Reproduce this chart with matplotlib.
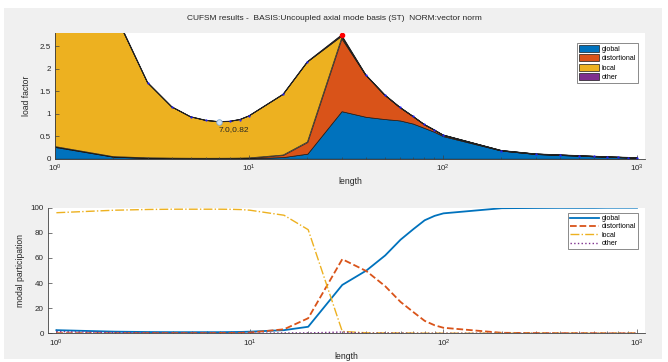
import matplotlib
matplotlib.use('Agg')
import matplotlib.pyplot as plt
from matplotlib.patches import Rectangle, Patch
from matplotlib.lines import Line2D
import numpy as np

plt.rcParams['font.family'] = ['Liberation Sans', 'DejaVu Sans']
plt.rcParams['mathtext.default'] = 'regular'

# half-wavelengths used in the analysis
lengths = [1, 2, 3, 4, 5, 6, 7, 8, 9, 10, 15, 20, 30, 40, 50, 60, 70, 80, 90, 100,
           200, 300, 400, 500, 600, 700, 800, 900, 1000]

# buckling load factor for each length
load_factor = [10.4, 3.3, 1.69, 1.15, 0.93, 0.85, 0.82, 0.83, 0.87, 0.95, 1.43, 2.15, 2.74,
               1.86, 1.42, 1.14, 0.94, 0.76, 0.64, 0.525, 0.18, 0.104, 0.082, 0.066,
               0.052, 0.041, 0.033, 0.026, 0.02]

# modal participation (%)
global_part = [2.5, 1.3, 1.0, 0.9, 0.9, 0.9, 0.9, 1.0, 1.1, 1.3, 2.5, 5.2, 38.5, 50, 62, 74.5,
               83, 90, 93.5, 95.5, 99.6, 99.8, 99.9, 99.9, 99.9, 100, 100, 100, 100]
dist_part = [0.1, 0.1, 0.2, 0.2, 0.2, 0.2, 0.3, 0.3, 0.4, 0.6, 3.2, 12, 59, 49.5, 37.5, 25,
             16.8, 9.9, 6.4, 4.4, 0.4, 0.2, 0.1, 0.1, 0.1, 0.0, 0.0, 0.0, 0.0]
local_part = [96, 98, 98.6, 98.8, 98.8, 98.8, 98.8, 98.7, 98.5, 98, 94, 82.5, 1.5, 0.4, 0.3,
              0.3, 0.2, 0.1, 0.1, 0.1, 0.0, 0.0, 0.0, 0.0, 0.0, 0.0, 0.0, 0.0, 0.0]
other_part = [1.4, 0.6, 0.2, 0.1, 0.1, 0.1, 0.0, 0.0, 0.0, 0.1, 0.3, 0.3, 1.0, 0.1, 0.2, 0.2,
              0.0, 0.0, 0.0, 0.0, 0.0, 0.0, 0.0, 0.0, 0.0, 0.0, 0.0, 0.0, 0.0]

mode_names = ['global', 'distortional', 'local', 'other']
mode_colors = ['#0072BD', '#D95319', '#EDB120', '#7E2F8E']

min_point = (7.0, 0.82)
title = 'CUFSM results -  BASIS:Uncoupled axial mode basis (ST)  NORM:vector norm'

W, H = 668, 362
fig = plt.figure(figsize=(W / 100, H / 100), dpi=100)
fig.patch.set_facecolor('white')
fig.patches.append(Rectangle((4 / W, 3 / H), 658 / W, 351 / H, transform=fig.transFigure,
                             facecolor='#f0f0f0', edgecolor='none', zorder=-10))

fig.text(0.5, 1 - 18 / H, title, ha='center', va='center', fontsize=6.0, color='#262626')

ax1 = fig.add_axes([55 / W, 1 - 158.7 / H, 590 / W, 125.7 / H])
ax2 = fig.add_axes([48 / W, 1 - 333.3 / H, 597 / W, 125.6 / H])

x = np.array(lengths)
lf = np.array(load_factor)
parts = [np.array(p) for p in (global_part, dist_part, local_part, other_part)]

# stacked areas: load factor split by participation
base = np.zeros_like(lf)
for p, name, c in zip(parts, mode_names, mode_colors):
    top = base + lf * p / 100.0
    ax1.fill_between(x, base, top, facecolor=c, edgecolor='#1a1a1a', linewidth=0.5, label=name)
    base = top
ax1.plot(x, lf, color='#222222', linewidth=0.8)
ax1.plot(x, lf, linestyle='none', marker='.', markersize=1.2, color='#2020ff')
peak = int(np.argmax(np.where(x >= 20, lf, 0)))
ax1.plot(x[peak], lf[peak], marker='o', markersize=3, color='red', linestyle='none')
ax1.plot(min_point[0], min_point[1], marker='o', markersize=4, markerfacecolor='#cfe2f3',
         markeredgecolor='#7fa7d0', markeredgewidth=0.6, linestyle='none')
ax1.annotate('%.1f,%.2f' % min_point, xy=min_point, xytext=(0, -3), textcoords='offset points',
             ha='left', va='top', fontsize=6, color='#262626')

ax1.set_xscale('log')
ax1.set_xlim(1, 1100)
ax1.set_ylim(0, 2.79)
ax1.set_yticks([0, 0.5, 1, 1.5, 2, 2.5])
ax1.set_yticklabels(['0', '0.5', '1', '1.5', '2', '2.5'])
ax1.set_ylabel('load factor', fontsize=6.2, color='#262626', labelpad=6)
ax1.set_xlabel('length', fontsize=6.2, color='#262626', labelpad=2)

handles = [Patch(facecolor=c, edgecolor='#1a1a1a', linewidth=0.5, label=n)
           for n, c in zip(mode_names, mode_colors)]
leg1 = ax1.legend(handles=handles, loc='upper right', bbox_to_anchor=(638 / W, 1 - 43 / H),
                  bbox_transform=fig.transFigure, fontsize=5, frameon=True, fancybox=False,
                  edgecolor='#555555', handlelength=3.0, handleheight=1.2, handletextpad=0.3,
                  borderpad=0.3, labelspacing=0.2, borderaxespad=0)
leg1.get_frame().set_linewidth(0.6)

# modal participation lines
styles = ['-', '--', '-.', ':']
widths = [1.3, 1.3, 1.0, 1.0]
for p, name, c, ls, lw in zip(parts, mode_names, mode_colors, styles, widths):
    ax2.plot(x, p, linestyle=ls, color=c, linewidth=lw, label=name)

ax2.set_xscale('log')
ax2.set_xlim(0.905, 1100)
ax2.set_ylim(0, 100)
ax2.set_yticks([0, 20, 40, 60, 80, 100])
ax2.set_ylabel('modal participation', fontsize=6.2, color='#262626', labelpad=4)
ax2.set_xlabel('length', fontsize=6.2, color='#262626', labelpad=2)

line_handles = [Line2D([0], [0], color=c, linestyle=ls, linewidth=lw)
                for c, ls, lw in zip(mode_colors, styles, widths)]
leg2 = ax2.legend(line_handles, mode_names, loc='upper right',
                  bbox_to_anchor=(638 / W, 1 - 213 / H), bbox_transform=fig.transFigure,
                  fontsize=5, frameon=True, fancybox=False, edgecolor='#555555',
                  handlelength=4.2, handletextpad=0.3, borderpad=0.3, labelspacing=0.2,
                  borderaxespad=0)
leg2.get_frame().set_linewidth(0.6)

for ax in (ax1, ax2):
    ax.set_facecolor('white')
    for side in ('top', 'right'):
        ax.spines[side].set_visible(False)
    for side in ('left', 'bottom'):
        ax.spines[side].set_color('#404040')
        ax.spines[side].set_linewidth(0.6)
    ax.tick_params(which='both', direction='in', colors='#404040', labelcolor='#262626',
                   labelsize=5.8, width=0.5)
    ax.tick_params(which='major', length=3, pad=3)
    ax.tick_params(which='minor', length=1.6)

fig.savefig('out.png', dpi=100, facecolor=fig.get_facecolor())
